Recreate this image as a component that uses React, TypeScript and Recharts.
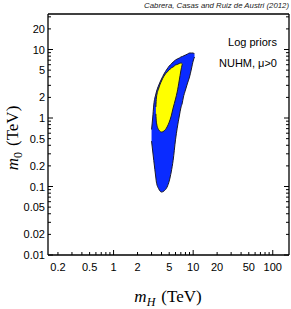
import React from 'react';
import { ComposedChart, Area, Line, XAxis, YAxis } from 'recharts';

// m_H samples (TeV) and region boundaries in m_0 (TeV)
const mH = [3.0, 3.1, 3.2, 3.4, 3.45, 3.7, 4.0, 4.3, 4.7, 5.0, 5.3, 5.6, 6.0, 6.3, 6.7, 7.0, 7.3, 7.5, 8.0, 8.5, 9.0, 9.5, 10, 10.4];
// outer (blue) region
const blueLow = [0.46, 0.33, 0.24, 0.133, 0.116, 0.092, 0.083, 0.086, 0.098, 0.12, 0.163, 0.24, 0.48, 0.71, 1.07, 1.4, 1.66, 1.96, 2.56, 3.24, 3.97, 5.19, 6.79, 7.77];
const blueHigh = [0.68, 1.0, 1.55, 2.24, 2.4, 3.03, 3.71, 4.39, 5.19, 5.74, 6.14, 6.57, 7.03, 7.27, 7.51, 7.77, 7.9, 8.04, 8.31, 8.6, 8.89, 8.89, 8.89, 8.6];
// inner (yellow) region
const yellowLow = [null, null, null, 1.15, 0.87, 0.67, 0.625, 0.646, 0.74, 0.87, 1.07, 1.4, 1.89, 2.4, 3.59, 4.86, 6.14, null, null, null, null, null, null, null];
const yellowHigh = [null, null, null, 1.45, 1.96, 2.74, 3.47, 4.1, 4.69, 5.02, 5.37, 5.55, 5.94, 6.04, 6.25, 6.35, 6.25, null, null, null, null, null, null, null];

const xTicks = [0.2, 0.3, 0.4, 0.5, 0.6, 0.7, 0.8, 0.9, 1, 2, 3, 4, 5, 6, 7, 8, 9, 10, 20, 30, 40, 50, 60, 70, 80, 90, 100];
const xLabels = [0.2, 0.5, 1, 2, 5, 10, 20, 50, 100];
const yTicks = [0.01, 0.02, 0.03, 0.04, 0.05, 0.06, 0.07, 0.08, 0.09, 0.1, 0.2, 0.3, 0.4, 0.5, 0.6, 0.7, 0.8, 0.9, 1, 2, 3, 4, 5, 6, 7, 8, 9, 10, 20, 30];
const yLabels = [0.01, 0.02, 0.05, 0.1, 0.2, 0.5, 1, 2, 5, 10, 20];

const rows = mH.map((x, i) => ({
  mH: x,
  blue: [blueLow[i], blueHigh[i]],
  yellow: yellowLow[i] == null ? null : [yellowLow[i], yellowHigh[i]],
  yLo: yellowLow[i],
  yHi: yellowHigh[i],
}));

const SANS = '"Liberation Sans", Arial, Helvetica, sans-serif';
const SERIF = '"Liberation Serif", "Times New Roman", serif';
const BLUE = '#0a2bff';
const YELLOW = '#ffff00';
const EDGE = '#1a1a2a';

const isDecade = (v: number) => Math.abs(Math.log10(v) - Math.round(Math.log10(v))) < 1e-6;
const inList = (list: number[], v: number) => list.some((l) => Math.abs(l - v) / l < 1e-6);
const tickLen = (v: number) => (isDecade(v) ? 5 : 3);

const BottomTick = (props: any) => {
  const { x, y, payload } = props;
  const v = payload.value;
  return (
    <g>
      <line x1={x} x2={x} y1={y} y2={y - tickLen(v)} stroke="#000" strokeWidth={1} />
      {inList(xLabels, v) && (
        <text x={x} y={y + 16} textAnchor="middle" fontSize={11} fontFamily={SANS} fill="#000">
          {String(v)}
        </text>
      )}
    </g>
  );
};

const TopTick = (props: any) => {
  const { x, y, payload } = props;
  return <line x1={x} x2={x} y1={y} y2={y + tickLen(payload.value)} stroke="#000" strokeWidth={1} />;
};

const LeftTick = (props: any) => {
  const { x, y, payload } = props;
  const v = payload.value;
  return (
    <g>
      <line x1={x} x2={x + tickLen(v)} y1={y} y2={y} stroke="#000" strokeWidth={1} />
      {inList(yLabels, v) && (
        <text x={x - 3} y={y + 4} textAnchor="end" fontSize={11} fontFamily={SANS} fill="#000">
          {String(v)}
        </text>
      )}
    </g>
  );
};

const RightTick = (props: any) => {
  const { x, y, payload } = props;
  return <line x1={x} x2={x - tickLen(payload.value)} y1={y} y2={y} stroke="#000" strokeWidth={1} />;
};

const frame = { stroke: '#000', strokeWidth: 1.3 };

export default function App() {
  return (
    <div style={{ position: 'absolute', left: 0, top: 0, width: 291, height: 309, background: '#fff' }}>
      <ComposedChart width={291} height={309} data={rows} margin={{ top: 0, right: 0, bottom: 0, left: 0 }}>
        <XAxis
          dataKey="mH"
          type="number"
          scale="log"
          domain={[0.15, 160]}
          allowDataOverflow
          ticks={xTicks}
          interval={0}
          tickSize={0}
          tickMargin={0}
          tickLine={false}
          tick={<BottomTick />}
          height={54}
          axisLine={frame}
        />
        <XAxis
          xAxisId="top"
          orientation="top"
          type="number"
          scale="log"
          domain={[0.15, 160]}
          allowDataOverflow
          ticks={xTicks}
          interval={0}
          tickSize={0}
          tickMargin={0}
          tickLine={false}
          tick={<TopTick />}
          height={14}
          axisLine={frame}
        />
        <YAxis
          type="number"
          scale="log"
          domain={[0.01, 33]}
          allowDataOverflow
          ticks={yTicks}
          interval={0}
          tickSize={0}
          tickMargin={0}
          tickLine={false}
          tick={<LeftTick />}
          width={48}
          axisLine={frame}
        />
        <YAxis
          yAxisId="right"
          orientation="right"
          type="number"
          scale="log"
          domain={[0.01, 33]}
          allowDataOverflow
          ticks={yTicks}
          interval={0}
          tickSize={0}
          tickMargin={0}
          tickLine={false}
          tick={<RightTick />}
          width={2}
          axisLine={frame}
        />
        <Area
          dataKey="blue"
          type="monotone"
          fill={BLUE}
          fillOpacity={1}
          stroke={EDGE}
          strokeWidth={1}
          isAnimationActive={false}
          activeDot={false}
        />
        <Area
          dataKey="yellow"
          type="monotone"
          fill={YELLOW}
          fillOpacity={1}
          stroke="none"
          isAnimationActive={false}
          activeDot={false}
        />
        <Line dataKey="yLo" type="monotone" stroke={EDGE} strokeWidth={1} dot={false} activeDot={false} isAnimationActive={false} />
        <Line dataKey="yHi" type="monotone" stroke={EDGE} strokeWidth={1} dot={false} activeDot={false} isAnimationActive={false} />
      </ComposedChart>
      <svg width={291} height={309} style={{ position: 'absolute', left: 0, top: 0, pointerEvents: 'none' }}>
        <text x={289} y={7.5} textAnchor="end" fontSize={7.8} fontStyle="italic" fontFamily={SANS} fill="#222">
          Cabrera, Casas and Ruiz de Austri (2012)
        </text>
        <text x={277} y={46} textAnchor="end" fontSize={11} fontFamily={SANS} fill="#000">
          Log priors
        </text>
        <text x={277} y={67} textAnchor="end" fontSize={11} fontFamily={SANS} fill="#000">
          NUHM, μ&gt;0
        </text>
        <text x={168} y={302} textAnchor="middle" fontSize={17} fontFamily={SERIF} fill="#000">
          <tspan fontStyle="italic">m</tspan>
          <tspan fontStyle="italic" fontSize={12} dy={4}>H</tspan>
          <tspan dy={-4} dx={6}>(TeV)</tspan>
        </text>
        <text transform="translate(18,138) rotate(-90)" textAnchor="middle" fontSize={17} fontFamily={SERIF} fill="#000">
          <tspan fontStyle="italic">m</tspan>
          <tspan fontSize={12} dy={4}>0</tspan>
          <tspan dy={-4} dx={6}>(TeV)</tspan>
        </text>
      </svg>
    </div>
  );
}
